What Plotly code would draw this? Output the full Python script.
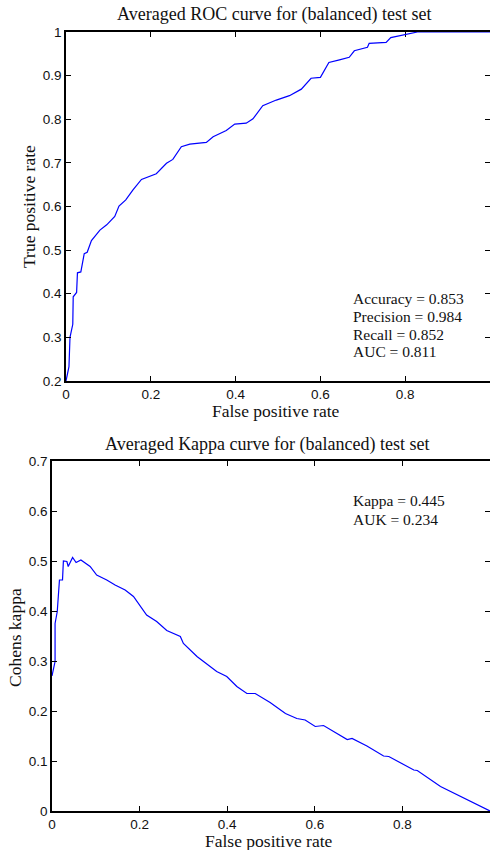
import plotly.graph_objects as go

# ---------------- data ----------------
roc_fpr = [0.0, 0.007, 0.0094, 0.016, 0.017, 0.025, 0.027, 0.035, 0.043, 0.05, 0.06, 0.071,
           0.08, 0.096, 0.115, 0.125, 0.141, 0.158, 0.17, 0.178, 0.213, 0.225, 0.237, 0.252,
           0.272, 0.292, 0.331, 0.347, 0.378, 0.398, 0.425, 0.441, 0.464, 0.496, 0.527, 0.555,
           0.578, 0.6, 0.62, 0.645, 0.668, 0.68, 0.711, 0.715, 0.755, 0.766, 0.802, 0.829, 1.0]
roc_tpr = [0.2, 0.233, 0.30, 0.33, 0.393, 0.403, 0.448, 0.45, 0.492, 0.495, 0.522, 0.535,
           0.546, 0.558, 0.577, 0.601, 0.615, 0.638, 0.653, 0.662, 0.675, 0.688, 0.699, 0.708,
           0.737, 0.743, 0.747, 0.760, 0.774, 0.789, 0.791, 0.801, 0.831, 0.844, 0.854, 0.869,
           0.894, 0.896, 0.930, 0.936, 0.942, 0.957, 0.965, 0.974, 0.976, 0.987, 0.994, 1.0, 1.0]

kappa_fpr = [0.0, 0.007, 0.007, 0.012, 0.017, 0.024, 0.026, 0.034, 0.037, 0.041, 0.047, 0.055,
             0.066, 0.087, 0.102, 0.125, 0.144, 0.167, 0.186, 0.216, 0.239, 0.262, 0.293, 0.3,
             0.331, 0.376, 0.399, 0.422, 0.445, 0.464, 0.498, 0.533, 0.559, 0.578, 0.601, 0.62,
             0.651, 0.674, 0.685, 0.719, 0.757, 0.769, 0.826, 0.834, 0.887, 1.0]
kappa_val = [0.27, 0.299, 0.375, 0.399, 0.462, 0.462, 0.5, 0.499, 0.489, 0.497, 0.507, 0.497,
             0.502, 0.489, 0.472, 0.462, 0.452, 0.442, 0.429, 0.392, 0.379, 0.361, 0.349, 0.335,
             0.309, 0.279, 0.269, 0.249, 0.235, 0.235, 0.217, 0.195, 0.185, 0.182, 0.169, 0.171,
             0.155, 0.143, 0.145, 0.13, 0.11, 0.109, 0.082, 0.081, 0.049, 0.0]

x_ticks = [0, 0.2, 0.4, 0.6, 0.8, 1]
x_tick_labels = ["0", "0.2", "0.4", "0.6", "0.8", "1"]
roc_y_ticks = [0.2, 0.3, 0.4, 0.5, 0.6, 0.7, 0.8, 0.9, 1.0]
roc_y_labels = ["0.2", "0.3", "0.4", "0.5", "0.6", "0.7", "0.8", "0.9", "1"]
kappa_y_ticks = [0, 0.1, 0.2, 0.3, 0.4, 0.5, 0.6, 0.7]
kappa_y_labels = ["0", "0.1", "0.2", "0.3", "0.4", "0.5", "0.6", "0.7"]

roc_stats = ["Accuracy = 0.853", "Precision = 0.984", "Recall = 0.852", "AUC = 0.811"]
kappa_stats = ["Kappa = 0.445", "AUK = 0.234"]

W, H = 490, 850
def px(x):
    return x / W
def py(y):
    return 1 - y / H

SERIF = "Liberation Serif"
SANS = "Liberation Sans"
TICKFONT = dict(family=SANS, size=13.5, color="#111")

fig = go.Figure()
fig.add_trace(go.Scatter(x=roc_fpr, y=roc_tpr, mode="lines", line=dict(color="#0000ff", width=1.2),
                         xaxis="x", yaxis="y", showlegend=False, hoverinfo="skip"))
fig.add_trace(go.Scatter(x=kappa_fpr, y=kappa_val, mode="lines", line=dict(color="#0000ff", width=1.2),
                         xaxis="x2", yaxis="y2", showlegend=False, hoverinfo="skip"))
# invisible copies so the right-hand (mirror-tick) axes get drawn
fig.add_trace(go.Scatter(x=roc_fpr, y=roc_tpr, mode="lines", opacity=0, line=dict(width=0),
                         xaxis="x", yaxis="y3", showlegend=False, hoverinfo="skip"))
fig.add_trace(go.Scatter(x=kappa_fpr, y=kappa_val, mode="lines", opacity=0, line=dict(width=0),
                         xaxis="x2", yaxis="y4", showlegend=False, hoverinfo="skip"))

common_x = dict(range=[0, 1], tickvals=x_ticks, ticktext=x_tick_labels, ticks="inside", ticklen=5,
                tickwidth=1.2, tickcolor="black", showline=True, linecolor="black", linewidth=1.6,
                mirror="ticks", showgrid=False, zeroline=False, tickfont=TICKFONT,
                layer="below traces", automargin=False)
common_y = dict(ticks="inside", ticklen=5, tickwidth=1.2, tickcolor="black", showline=True,
                linecolor="black", linewidth=1.6, mirror=False, showgrid=False, zeroline=False,
                tickfont=TICKFONT, automargin=False)
right_y = dict(side="right", ticks="inside", ticklen=5, tickwidth=1.2, tickcolor="black",
               showticklabels=False, showline=False, showgrid=False, zeroline=False,
               automargin=False)

fig.update_layout(
    template="none",
    width=W, height=H, margin=dict(l=0, r=0, t=0, b=0, pad=0), autosize=False,
    paper_bgcolor="white", plot_bgcolor="rgba(0,0,0,0)",
    xaxis=dict(domain=[px(66), 1.0], anchor="y", **common_x),
    yaxis=dict(domain=[py(381), py(32)], anchor="x", range=[0.2, 1.0], tickvals=roc_y_ticks,
               ticktext=roc_y_labels, **common_y),
    yaxis3=dict(overlaying="y", anchor="x", range=[0.2, 1.0], tickvals=roc_y_ticks, **right_y),
    xaxis2=dict(domain=[px(52), 1.0], anchor="y2", **common_x),
    yaxis2=dict(domain=[py(811), py(461)], anchor="x2", range=[0, 0.7], tickvals=kappa_y_ticks,
                ticktext=kappa_y_labels, **common_y),
    yaxis4=dict(overlaying="y2", anchor="x2", range=[0, 0.7], tickvals=kappa_y_ticks, **right_y),
)

ann = []
def txt(x, y, s, size=17.5, xanchor="center", angle=0):
    ann.append(dict(x=px(x), y=py(y), xref="paper", yref="paper", text=s, showarrow=False,
                    xanchor=xanchor, yanchor="middle", textangle=angle,
                    font=dict(family=SERIF, size=size, color="#111")))

txt(274, 14, "Averaged ROC curve for (balanced) test set", size=18)
txt(276, 411, "False positive rate")
txt(29, 207, "True positive rate", angle=-90)
txt(267, 444, "Averaged Kappa curve for (balanced) test set", size=18)
txt(269, 841, "False positive rate")
txt(15, 638, "Cohens kappa", angle=-90)
for i, s in enumerate(roc_stats):
    txt(351, 298 + 18 * i, s, size=15.5, xanchor="left")
for i, s in enumerate(kappa_stats):
    txt(351, 501 + 18 * i, s, size=15.5, xanchor="left")
fig.update_layout(annotations=ann)

fig.write_html("out.html")
